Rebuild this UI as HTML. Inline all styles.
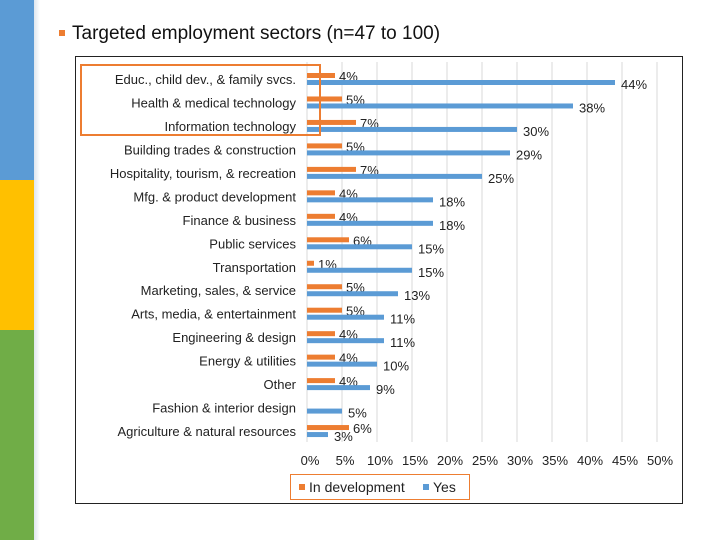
<!DOCTYPE html>
<html><head><meta charset="utf-8"><style>
body{margin:0;width:720px;height:540px;background:#fff;overflow:hidden;font-family:"Liberation Sans",sans-serif;position:relative}
.a{position:absolute}
</style></head><body>
<div class="a" style="left:0;top:0;width:34px;height:180px;background:#5b9bd5"></div>
<div class="a" style="left:0;top:180px;width:34px;height:150px;background:#ffc000"></div>
<div class="a" style="left:0;top:330px;width:34px;height:210px;background:#70ad47"></div>
<div class="a" style="left:34px;top:0;width:6px;height:540px;background:linear-gradient(90deg,#dde6ee,#fff)"></div>
<div class="a" style="left:59px;top:30px;width:6px;height:6px;background:#ed7d31"></div>
<div class="a" style="left:72px;top:23px;font-size:19px;color:#111">Targeted employment sectors (n=47 to 100)</div>
<svg class="a" style="left:0;top:0" width="720" height="540">
<rect x="75.5" y="56.5" width="607" height="447" fill="none" stroke="#222" stroke-width="1"/>
<g id="g"></g>
</svg>
<script>
const categories=["Educ., child dev., & family svcs.","Health & medical technology","Information technology","Building trades & construction","Hospitality, tourism, & recreation","Mfg. & product development","Finance & business","Public services","Transportation","Marketing, sales, & service","Arts, media, & entertainment","Engineering & design","Energy & utilities","Other","Fashion & interior design","Agriculture & natural resources"];
const devValues=[4,5,7,5,7,4,4,6,1,5,5,4,4,4,null,6];
const yesValues=[44,38,30,29,25,18,18,15,15,13,11,11,10,9,5,3];
const ticks=[0,5,10,15,20,25,30,35,40,45,50];
const g=document.getElementById('g');const NS='http://www.w3.org/2000/svg';
const x=v=>307+v*7;const y=i=>78+i*23.47;
function mk(t,a){const e=document.createElementNS(NS,t);for(const k in a)e.setAttribute(k,a[k]);g.appendChild(e);return e;}
ticks.forEach(t=>{const l=mk('line',{x1:x(t),x2:x(t),y1:62,y2:442,stroke:'#d9d9d9'});

const tx=mk('text',{x:x(t)+3,y:465,'text-anchor':'middle','font-size':13,fill:'#222'});tx.textContent=t+'%';
});
categories.forEach((c,i)=>{const t=mk('text',{x:296,y:y(i)+6,'text-anchor':'end','font-size':13,fill:'#222'});t.textContent=c;

const d=devValues[i];if(d!=null){const r=mk('rect',{x:x(0),y:y(i)-5,width:x(d)-x(0),height:5,fill:'#ed7d31'});

const l=mk('text',{x:x(d)+4,y:y(i)+3,'font-size':13,fill:'#222'});l.textContent=d+'%';
}
const v=yesValues[i];const r=mk('rect',{x:x(0),y:y(i)+2,width:x(v)-x(0),height:5,fill:'#5b9bd5'});

const l=mk('text',{x:x(v)+6,y:y(i)+11,'font-size':13,fill:'#222'});l.textContent=v+'%';
});
</script>
<div class="a" style="left:80px;top:64px;width:237px;height:68px;border:2px solid #ed7d31"></div>
<div class="a" style="left:290px;top:474px;width:178px;height:24px;border:1px solid #ed7d31;font-size:14px;color:#222">
<span class="a" style="left:8px;top:9px;width:6px;height:6px;background:#ed7d31"></span><span class="a" style="left:18px;top:4px">In development</span>
<span class="a" style="left:132px;top:9px;width:6px;height:6px;background:#5b9bd5"></span><span class="a" style="left:142px;top:4px">Yes</span></div>
</body></html>
